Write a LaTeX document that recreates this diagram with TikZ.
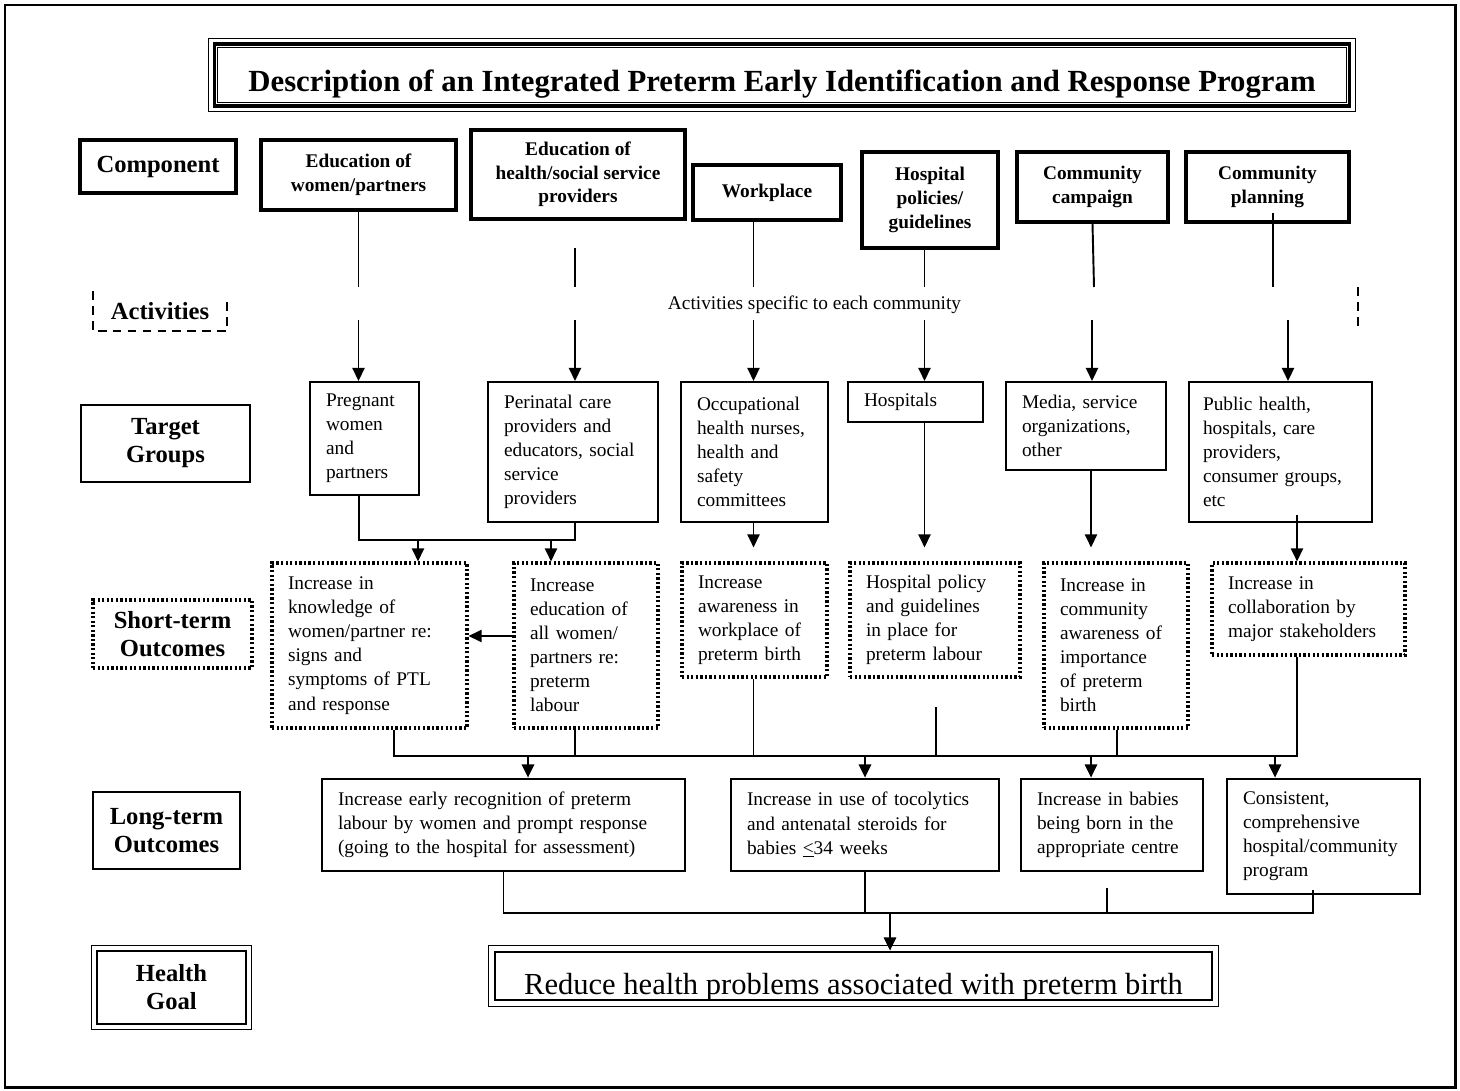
\documentclass[tikz,border=0pt]{standalone}
\usepackage{fontspec}
\setmainfont{Liberation Serif}
\usetikzlibrary{arrows.meta}

\begin{document}
\begin{tikzpicture}[x=0.02cm,y=-0.02cm,
  compbox/.style={draw,line width=2.2pt,align=center,inner sep=0pt,font=\fontsize{11}{13.5}\selectfont\bfseries},
  rowlabel/.style={align=center,inner sep=0pt,font=\fontsize{14}{16}\selectfont\bfseries},
  tgbox/.style={draw,line width=1.2pt,align=left,inner xsep=0.32cm,inner ysep=0pt,font=\fontsize{11}{13.7}\selectfont},
  stbox/.style={tgbox,line width=1.8pt,dash pattern=on 1.3pt off 1.3pt},
  ltbox/.style={tgbox,line width=1.6pt},
  link/.style={line width=1.1pt},
  linkarrow/.style={link,-{Triangle[length=7.5pt,width=7pt]}},
  actline/.style={line width=1.3pt,dash pattern=on 5pt off 3.5pt}]

\useasboundingbox (0,0) rectangle (1460,1091);
\draw[line width=1.7pt] (5,5) rectangle (1455,1087);

% title
\node[draw,line width=1.8pt,minimum width=22.72cm,minimum height=1.24cm,inner ysep=0pt,text height=19.3pt,text depth=0pt,font=\fontsize{17.5}{20}\selectfont\bfseries] (title) at (782,75) {Description of an Integrated Preterm Early Identification and Response Program};
\draw[line width=0.6pt] ([shift={(-4,4)}]title.south west) rectangle ([shift={(4,-4)}]title.north east);
\draw[line width=0.6pt] ([shift={(5,-5)}]title.south west) rectangle ([shift={(-5,5)}]title.north east);

% row labels
\node[rowlabel,draw,line width=2.2pt,minimum width=3.12cm,minimum height=1.06cm] (comp) at (158,166.5) {Component};
\node[rowlabel,minimum width=2.68cm,minimum height=0.78cm] (act) at (160,311) {Activities};
\draw[actline] (act.north west) -- (act.south west) -- (act.south east) -- ++(0,-30);
\node[rowlabel,draw,line width=1.4pt,minimum width=3.38cm,minimum height=1.54cm] (tg) at (165.5,443.5) {Target\\Groups};
\node[rowlabel,draw,line width=1.8pt,dash pattern=on 1.3pt off 1.3pt,minimum width=3.18cm,minimum height=1.36cm] (st) at (172.5,634) {Short-term\\Outcomes};
\node[rowlabel,draw,line width=1.4pt,minimum width=2.94cm,minimum height=1.54cm] (lt) at (166.5,830.5) {Long-term\\Outcomes};
\node[rowlabel,draw,line width=1.6pt,minimum width=2.98cm,minimum height=1.46cm] (hg) at (171.5,987.5) {Health\\Goal};
\draw[line width=0.6pt] ([shift={(-4,4)}]hg.south west) rectangle ([shift={(4,-4)}]hg.north east);

% components
\node[compbox,minimum width=3.9cm,minimum height=1.4cm] (c1) at (358.5,175) {Education of\\women/partners};
\node[compbox,minimum width=4.28cm,minimum height=1.78cm] (c2) at (578,174.5) {Education of\\health/social service\\providers};
\node[compbox,minimum width=2.96cm,minimum height=1.1cm] (c3) at (767,192.5) {Workplace};
\node[compbox,minimum width=2.72cm,minimum height=1.92cm] (c4) at (930,200) {Hospital\\policies/\\guidelines};
\node[compbox,minimum width=3.02cm,minimum height=1.4cm] (c5) at (1092.5,187) {Community\\campaign};
\node[compbox,minimum width=3.26cm,minimum height=1.4cm] (c6) at (1267.5,187) {Community\\planning};

\node[font=\fontsize{11}{13.7}\selectfont] (acttext) at (814.5,305) {Activities specific to each community};

% target groups
\node[tgbox,text width=1.54cm,minimum height=2.26cm] (t1) at (364.5,438.5) {Pregnant\\women\\and\\partners};
\node[tgbox,text width=2.76cm,minimum height=2.8cm] (t2) at (573,452) {Perinatal care\\providers and\\educators, social\\service\\providers};
\node[tgbox,text width=2.3cm,minimum height=2.8cm] (t3) at (754.5,452) {Occupational\\health nurses,\\health and\\safety\\committees};
\node[tgbox,text width=2.06cm,minimum height=0.8cm] (t4) at (915.5,402) {Hospitals};
\node[tgbox,text width=2.56cm,minimum height=1.76cm] (t5) at (1086,426) {Media, service\\organizations,\\other};
\node[tgbox,inner xsep=0.28cm,text width=3.1cm,minimum height=2.8cm] (t6) at (1280.5,452) {Public health,\\hospitals, care\\providers,\\consumer groups,\\etc};

% short-term outcomes
\node[stbox,text width=3.26cm,minimum height=3.3cm] (s1) at (369.5,645.5) {Increase in\\knowledge of\\women/partner re:\\signs and\\symptoms of PTL\\and response};
\node[stbox,text width=2.24cm,minimum height=3.3cm] (s2) at (586,645.5) {Increase\\education of\\all women/\\partners re:\\preterm\\labour};
\node[stbox,text width=2.26cm,minimum height=2.28cm] (s3) at (754.5,620) {Increase\\awareness in\\workplace of\\preterm birth};
\node[stbox,text width=2.76cm,minimum height=2.28cm] (s4) at (935,620) {Hospital policy\\and guidelines\\in place for\\preterm labour};
\node[stbox,text width=2.24cm,minimum height=3.3cm] (s5) at (1116,645.5) {Increase in\\community\\awareness of\\importance\\of preterm\\birth};
\node[stbox,text width=3.22cm,minimum height=1.84cm] (s6) at (1308.5,609) {Increase in\\collaboration by\\major stakeholders};

% long-term outcomes
\node[ltbox,text width=6.62cm,minimum height=1.84cm] (l1) at (503.5,825) {Increase early recognition of preterm\\labour by women and prompt response\\(going to the hospital for assessment)};
\node[ltbox,text width=4.72cm,minimum height=1.84cm] (l2) at (865,825) {Increase in use of tocolytics\\and antenatal steroids for\\babies \underline{<}34 weeks};
\node[ltbox,text width=3.0cm,minimum height=1.84cm] (l3) at (1112,825) {Increase in babies\\being born in the\\appropriate centre};
\node[ltbox,text width=3.22cm,minimum height=2.3cm] (l4) at (1323.5,836.5) {Consistent,\\comprehensive\\hospital/community\\program};

% health goal
\node[draw,line width=1.6pt,minimum width=14.34cm,minimum height=0.96cm,inner ysep=0pt,text height=21.5pt,text depth=0pt,font=\fontsize{17.4}{20}\selectfont] (goal) at (853.5,976) {Reduce health problems associated with preterm birth};
\draw[line width=0.6pt] ([shift={(-5,5)}]goal.south west) rectangle ([shift={(5,-5)}]goal.north east);

% component -> target
\coordinate (atop) at (0,287);
\coordinate (abot) at (0,320);
\coordinate (col2) at (575,248);
\coordinate (col3) at (753.5,0);
\coordinate (col4) at (924.5,0);
\coordinate (col5a) at (1094,287);
\coordinate (col5b) at (1092,320);
\coordinate (col6a) at (1273,213);
\coordinate (col6b) at (1288,320);
\coordinate (amark) at (1358,287);

\draw[link] (c1.south) -- (c1.south |- atop);
\draw[linkarrow] (c1.south |- abot) -- (c1.south |- t1.north);
\draw[link] (col2) -- (col2 |- atop);
\draw[linkarrow] (col2 |- abot) -- (col2 |- t2.north);
\draw[link] (col3 |- c3.south) -- (col3 |- atop);
\draw[linkarrow] (col3 |- abot) -- (col3 |- t3.north);
\draw[link] (col4 |- c4.south) -- (col4 |- atop);
\draw[linkarrow] (col4 |- abot) -- (col4 |- t4.north);
\draw[link] (c5.south) -- (col5a);
\draw[linkarrow] (col5b) -- (col5b |- t5.north);
\draw[link] (col6a) -- (col6a |- atop);
\draw[linkarrow] (col6b) -- (col6b |- t6.north);
\draw[actline] (amark) -- ++(0,41);

% target -> short-term
\coordinate (tja) at (359,540);
\coordinate (tjb) at (575,540);
\coordinate (tka) at (418,540);
\coordinate (tkb) at (551,540);
\coordinate (col5c) at (1091,0);
\coordinate (col6c) at (1297,515);
\draw[link] (tja |- t1.south) -- (tja) -- (tjb) -- (tjb |- t2.south);
\draw[linkarrow] (tka) -- (tka |- s1.north);
\draw[linkarrow] (tkb) -- (tkb |- s2.north);
\draw[linkarrow,shorten >=0.28cm] (col3 |- t3.south) -- (col3 |- s3.north);
\draw[linkarrow,shorten >=0.28cm] (col4 |- t4.south) -- (col4 |- s4.north);
\draw[linkarrow,shorten >=0.28cm] (col5c |- t5.south) -- (col5c |- s5.north);
\draw[linkarrow] (col6c) -- (col6c |- s6.north);

\coordinate (sside) at (0,636);
\draw[linkarrow] (s2.west |- sside) -- (s1.east |- sside);

% short-term -> long-term
\coordinate (busb) at (0,756);
\coordinate (sx1) at (394,0);
\coordinate (sx4) at (936,707);
\coordinate (sx5) at (1117,0);
\coordinate (lk1) at (528,756);
\coordinate (lk2) at (865,756);
\coordinate (lk3) at (1091,756);
\coordinate (lk4) at (1275,756);
\draw[link] (sx1 |- s1.south) -- (sx1 |- busb) -- (col6c |- busb) -- (col6c |- s6.south);
\draw[link] (col2 |- s2.south) -- (col2 |- busb);
\draw[link] (col3 |- s3.south) -- (col3 |- busb);
\draw[link] (sx4) -- (sx4 |- busb);
\draw[link] (sx5 |- s5.south) -- (sx5 |- busb);
\draw[linkarrow] (lk1) -- (lk1 |- l1.north);
\draw[linkarrow] (lk2) -- (lk2 |- l2.north);
\draw[linkarrow] (lk3) -- (lk3 |- l3.north);
\draw[linkarrow] (lk4) -- (lk4 |- l4.north);

% long-term -> goal
\coordinate (busc) at (0,913);
\coordinate (lx3) at (1107,888);
\coordinate (lx4) at (1313,890);
\coordinate (gk) at (890,913);
\draw[link] (l1.south) -- (l1.south |- busc) -- (lx4 |- busc) -- (lx4);
\draw[link] (l2.south) -- (l2.south |- busc);
\draw[link] (lx3) -- (lx3 |- busc);
\draw[linkarrow] (gk) -- (gk |- goal.north);

\end{tikzpicture}
\end{document}
